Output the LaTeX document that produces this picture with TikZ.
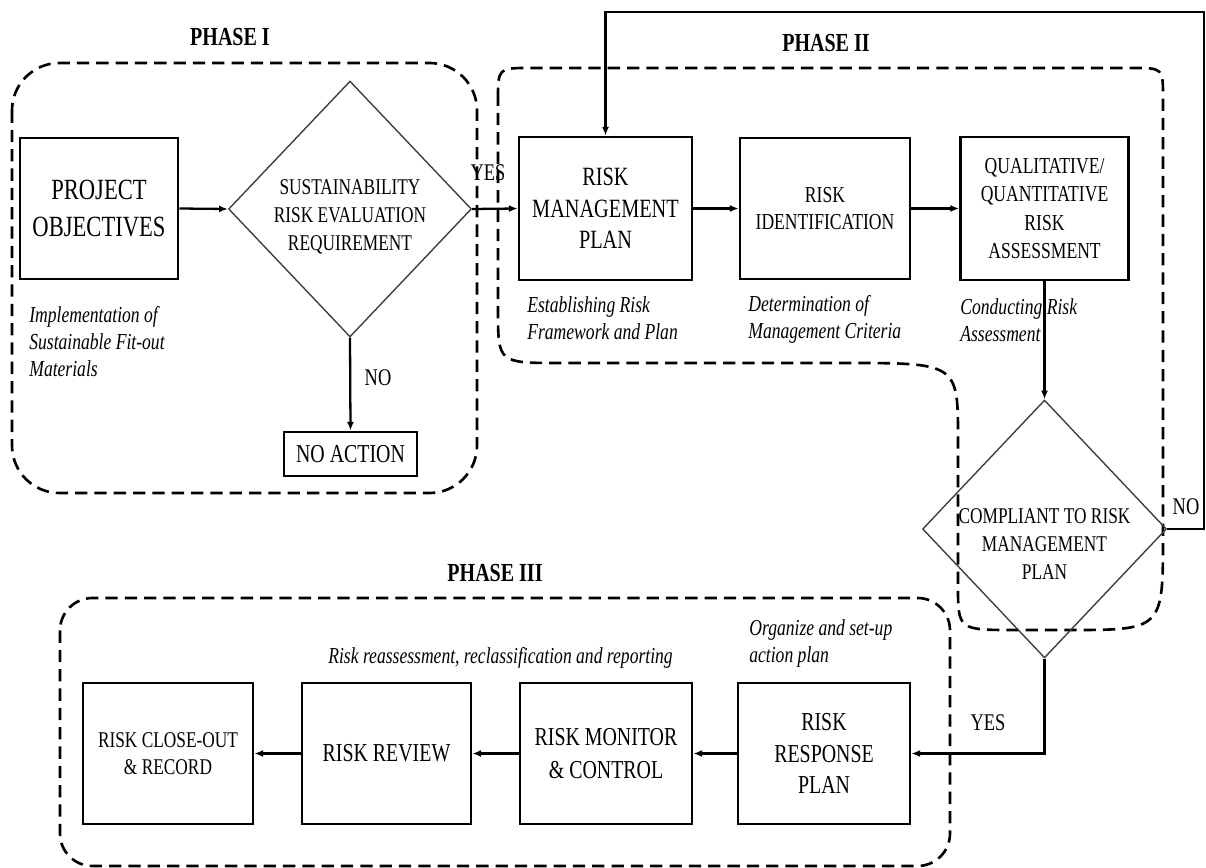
\documentclass[tikz,border=0pt]{standalone}
\usepackage{fontspec}
\setmainfont{Liberation Serif}[FakeStretch=0.77]
\usetikzlibrary{shapes.geometric,arrows.meta}

\begin{document}
\begin{tikzpicture}[x=0.02cm, y=-0.02cm,
  box/.style={draw, line width=1.6pt, minimum width=3.4cm, minimum height=2.82cm,
    align=center, inner sep=2pt, font=\fontsize{14.7}{18}\selectfont},
  dia/.style={draw=diagray, line width=0.8pt, shape=diamond, inner sep=0pt},
  diatext/.style={align=center, inner sep=0pt, font=\fontsize{12.8}{16}\selectfont},
  note/.style={align=left, anchor=north west, inner sep=0pt,
    font=\fontsize{13}{15.5}\selectfont\itshape},
  phase/.style={font=\fontsize{14.8}{17}\selectfont\bfseries},
  lbl/.style={font=\fontsize{13.6}{16}\selectfont},
  arr/.style={line width=1.3pt, -{Latex[length=5pt,width=4pt]}},
  zone/.style={line width=1.5pt, dash pattern=on 7pt off 4pt},
]

  % --- Farben ---
  \definecolor{diagray}{HTML}{404040} % Rauten

  \useasboundingbox (0,0) rectangle (1206,868);

  % --- Phasen (gestrichelte Bereiche) ---
  % Phase I
  \draw[zone, rounded corners=0.95cm] (12,63) rectangle (477,493);
  % Phase II (mit Ausbuchtung um die zweite Raute)
  \draw[zone] (498,100) .. controls (498,68) .. (530,68) -- (1133,68)
    .. controls (1163,68) .. (1163,98) -- (1163,535)
    .. controls (1163,630) .. (1068,630) -- (1015,630)
    .. controls (958,630) .. (958,585) -- (958,440)
    .. controls (958,363) .. (845,363) -- (560,363)
    .. controls (498,363) .. (498,310) -- cycle;
  % Phase III
  \draw[zone, rounded corners=0.65cm] (60,598) rectangle (950,866);

  \node[phase] (ph1) at (230,37) {PHASE I};
  \node[phase] (ph2) at (826,43) {PHASE II};
  \node[phase] (ph3) at (495,573) {PHASE III};

  % --- Phase I ---
  \node[box, minimum width=3.16cm, font=\fontsize{16.7}{21}\selectfont] (po) at (99,208.5) {PROJECT\\OBJECTIVES};
  \node[dia, minimum width=4.86cm, minimum height=5.12cm] (d1) at (350,209) {};
  \node[diatext] (d1t) at (350,217) {SUSTAINABILITY\\RISK EVALUATION\\REQUIREMENT};
  \node[box, minimum width=2.66cm, minimum height=0.88cm, inner sep=0pt] (na) at (350.5,454) {NO ACTION};
  \node[note] (n1) at (29,306) {Implementation of\\Sustainable Fit-out\\Materials};

  % --- Phase II ---
  \node[box, minimum width=3.46cm, minimum height=2.86cm, font=\fontsize{15}{18}\selectfont] (rmp) at (605.5,208.5) {RISK\\MANAGEMENT\\PLAN};
  \node[box, font=\fontsize{13}{15.5}\selectfont] (ri) at (825,208.5) {RISK\\IDENTIFICATION};
  \node[box, minimum width=3.36cm, minimum height=2.86cm, font=\fontsize{13}{16}\selectfont] (qa) at (1044.5,208.5) {QUALITATIVE/\\QUANTITATIVE\\RISK\\ASSESSMENT};
  \node[note] (n2) at (527,296) {Establishing Risk\\Framework and Plan};
  \node[note] (n3) at (748,295) {Determination of\\Management Criteria};
  \node[note] (n4) at (960,298) {Conducting Risk\\Assessment};

  \node[dia, minimum width=4.88cm, minimum height=5.16cm] (d2) at (1044.5,529) {};
  \node[diatext] (d2t) at (1044.5,544) {COMPLIANT TO RISK\\MANAGEMENT\\PLAN};

  % --- Phase III ---
  \node[box, minimum width=3.44cm] (rrp) at (824,753.5) {RISK\\RESPONSE\\PLAN};
  \node[box, minimum width=3.44cm, font=\fontsize{14.7}{18.7}\selectfont] (rmc) at (606,753.5) {RISK MONITOR\\\& CONTROL};
  \node[box, minimum width=3.38cm] (rr) at (386.5,753.5) {RISK REVIEW};
  \node[box, font=\fontsize{12.8}{15}\selectfont] (rco) at (168,753.5) {RISK CLOSE-OUT\\\& RECORD};
  \node[note] (n5) at (749,619) {Organize and set-up\\action plan};
  \node[note] (n6) at (328,647) {Risk reassessment, reclassification and reporting};

  % --- Verbindungen ---
  \draw[arr] (po.east) -- (d1.west);
  \draw[arr] (d1.east) -- (rmp.west);
  \node[lbl] (yes1) at (488,173) {YES};
  \draw[arr] (d1.south) -- (na.north);
  \node[lbl] (no1) at (378,378) {NO};
  \draw[arr] (rmp.east) -- (ri.west);
  \draw[arr] (ri.east) -- (qa.west);
  \draw[arr] (qa.south) -- (d2.north);
  % Rueckfuehrung (NO)
  \coordinate (fbtr) at (1204,12);
  \draw[arr] (d2.east) -| (fbtr) -| (rmp.north);
  \node[lbl] (no2) at (1186,507) {NO};
  % weiter zu Phase III (YES)
  \draw[arr] (d2.south) |- (rrp.east);
  \node[lbl] (yes2) at (988,723) {YES};
  \draw[arr] (rrp.west) -- (rmc.east);
  \draw[arr] (rmc.west) -- (rr.east);
  \draw[arr] (rr.west) -- (rco.east);

\end{tikzpicture}
\end{document}
